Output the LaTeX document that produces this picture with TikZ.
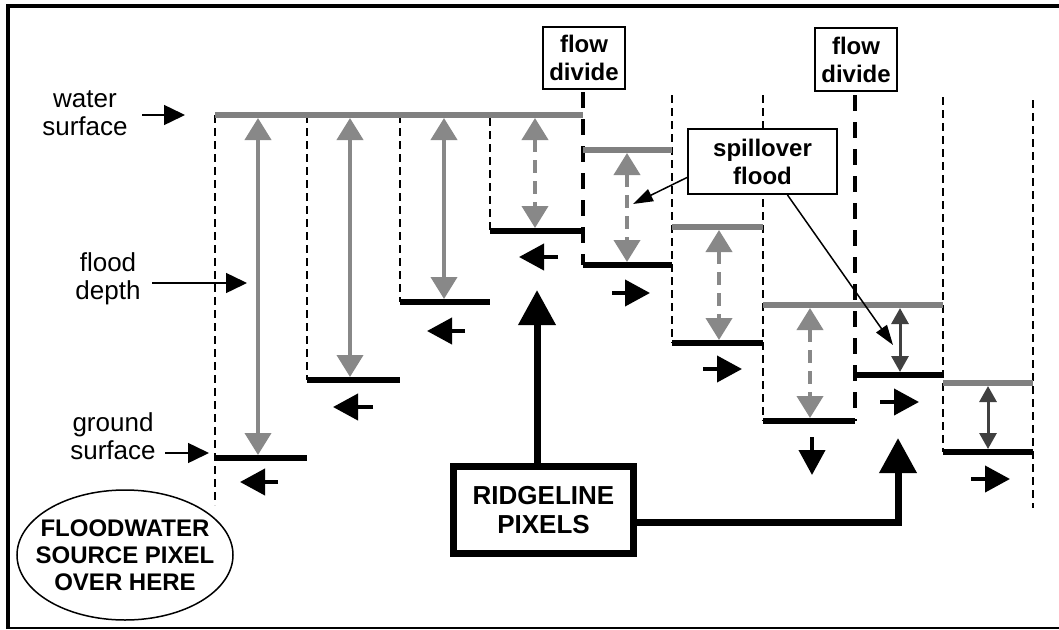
\documentclass[tikz,border=0pt]{standalone}
\usepackage{fontspec}
\setmainfont{Liberation Sans}
\usetikzlibrary{arrows.meta,shapes.geometric}
\definecolor{wgray}{RGB}{128,128,128}
\definecolor{agray}{RGB}{136,136,136}
\definecolor{dgray}{RGB}{64,64,64}
\begin{document}
\begin{tikzpicture}[x=1pt,y=-1pt,
  lbl/.style={font=\fontsize{26}{28.5}\selectfont, align=center, inner sep=0pt},
  bbox/.style={draw, line width=2pt, fill=white, align=center, inner sep=0pt,
     font=\bfseries\fontsize{24}{28}\selectfont},
  coldash/.style={line width=1.5pt, dash pattern=on 8pt off 5pt},
  divdash/.style={line width=4pt, dash pattern=on 16pt off 11pt},
  water/.style={line width=6pt, wgray},
  ground/.style={line width=6pt, black},
  depth/.style={agray, line width=4pt, {Triangle[length=22pt,width=26pt]}-{Triangle[length=22pt,width=26pt]}},
  depthd/.style={depth, dash pattern=on 13pt off 8pt},
  depthk/.style={dgray, line width=3pt, {Triangle[length=16pt,width=17pt]}-{Triangle[length=16pt,width=17pt]}},
  flowarrow/.style={line width=4pt, -{Triangle[length=25pt,width=26pt]}},
  lblarrow/.style={line width=1.5pt, -{Triangle[length=21pt,width=20pt]}},
  thinarrow/.style={line width=1.5pt, -{Triangle[length=20pt,width=13pt]}},
  bigarrow/.style={line width=7pt, -{Triangle[length=35pt,width=36pt]}},
]
\useasboundingbox (0,0) rectangle (1059,629);
% frame
\draw[line width=4pt] (8,629) -- (8,5.5) -- (1059,5.5);
\draw[line width=1.2pt] (6,628) -- (1059,628);

% column dashed lines
\draw[coldash] (215,115) -- (215,505);
\draw[coldash] (307,115) -- (307,380);
\draw[coldash] (400,115) -- (400,302);
\draw[coldash] (490,118) -- (490,231);
\draw[coldash] (672,95) -- (672,343);
\draw[coldash] (763,95) -- (763,421);
\draw[coldash] (943,97) -- (943,452);
\draw[coldash] (1033,100) -- (1033,508);
\draw[divdash] (583,92) -- (583,265);
\draw[divdash] (855,95) -- (855,421);

% water surfaces
\draw[water] (215,115) -- (583,115);
\draw[water] (583,150) -- (672,150);
\draw[water] (672,227) -- (763,227);
\draw[water] (763,305) -- (943,305);
\draw[water] (943,383) -- (1033,383);

% ground surfaces
\draw[ground] (215,458) -- (307,458);
\draw[ground] (307,380) -- (400,380);
\draw[ground] (400,302) -- (490,302);
\draw[ground] (490,231) -- (583,231);
\draw[ground] (583,265) -- (672,265);
\draw[ground] (672,343) -- (763,343);
\draw[ground] (763,421) -- (855,421);
\draw[ground] (855,375) -- (943,375);
\draw[ground] (943,452) -- (1033,452);

% flood depth arrows
\draw[depth] (258,118) -- (258,455);
\draw[depth] (350,118) -- (350,377);
\draw[depth] (444,118) -- (444,299);
\draw[depthd] (535,118) -- (535,228);
\draw[depthd] (627,153) -- (627,262);
\draw[depthd] (719,230) -- (719,340);
\draw[depthd] (810,308) -- (810,418);
\draw[depthk] (900,308) -- (900,372);
\draw[depthk] (988,386) -- (988,449);

% flow direction arrows
\draw[flowarrow] (278,482) -- (240,482);
\draw[flowarrow] (373,407) -- (333,407);
\draw[flowarrow] (465,331) -- (427,331);
\draw[flowarrow] (558,257) -- (519,257);
\draw[flowarrow] (612,293) -- (650,293);
\draw[flowarrow] (703,369) -- (742,369);
\draw[flowarrow] (812,437) -- (812,475);
\draw[flowarrow] (880,402) -- (919,402);
\draw[flowarrow] (971,479) -- (1010,479);

% left labels
\node[lbl] (ws) at (85,113) {water\\surface};
\node[lbl] (fd) at (108,279) {flood\\depth};
\node[lbl] (gs) at (113,436) {ground\\surface};
\coordinate (wsT) at (185,115);
\coordinate (fdT) at (247,283);
\coordinate (gsT) at (209,453);
\draw[lblarrow] (142,115) -- (wsT);
\draw[lblarrow] (152,283) -- (fdT);
\draw[lblarrow] (165,453) -- (gsT);

% flow divide boxes
\node[bbox, minimum width=82pt, minimum height=62pt] (fd1) at (584,58) {flow\\divide};
\node[bbox, minimum width=82pt, minimum height=63pt] (fd2) at (856,59.5) {flow\\divide};

% spillover
\node[bbox, minimum width=149pt, minimum height=65pt] (spill) at (762.5,161.5) {spillover\\flood};
\coordinate (sp1) at (633,204);
\coordinate (sp2) at (893,345);
\draw[thinarrow] ([yshift=-16pt]spill.west) -- (sp1);
\draw[thinarrow] ([xshift=25pt]spill.south) -- (sp2);

% floodwater source ellipse
\node[align=center, inner sep=0pt, font=\bfseries\fontsize{24}{27}\selectfont] (src) at (125,555)
  {FLOODWATER\\SOURCE PIXEL\\OVER HERE};
\draw[line width=1.5pt] (src.center) ellipse [x radius=108pt, y radius=65pt];

% ridgeline
\node[draw, line width=7pt, fill=white, minimum width=180pt, minimum height=87pt, inner sep=0pt,
  align=center, font=\bfseries\fontsize{26}{28.5}\selectfont] (ridge) at (543.5,510) {RIDGELINE\\PIXELS};
\coordinate (r1) at (537,290);
\coordinate (r2) at (898,438);
\draw[bigarrow] (ridge.north -| r1) -- (r1);
\draw[bigarrow] ([yshift=-12pt]ridge.east) -| (r2);
\end{tikzpicture}
\end{document}
